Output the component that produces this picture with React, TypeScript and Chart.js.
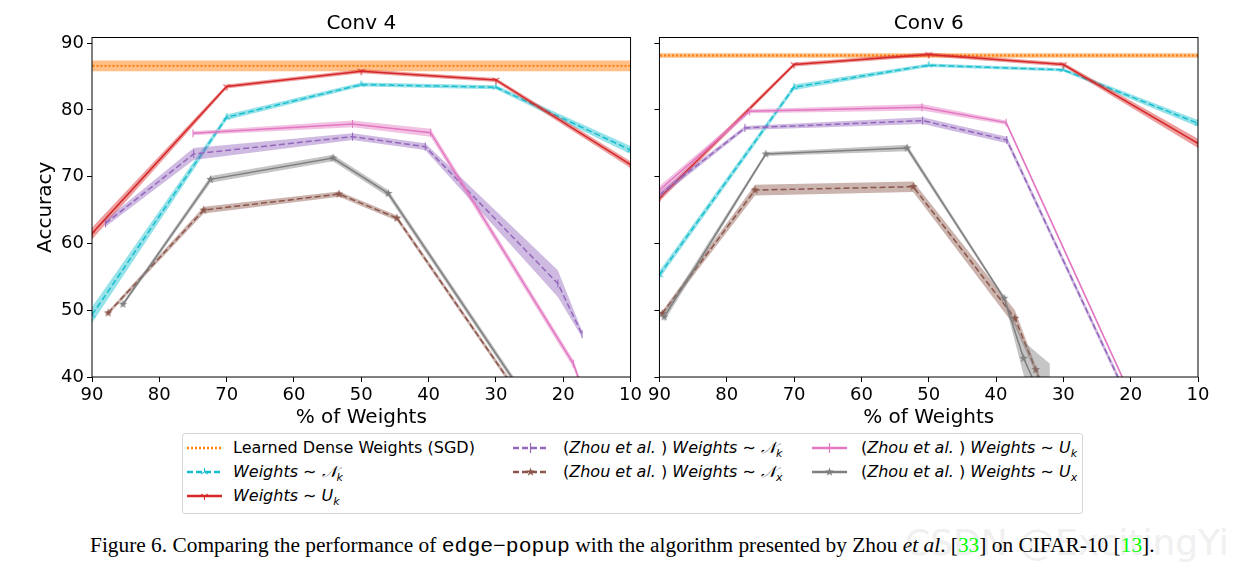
import React, { useEffect, useRef } from "react";
import { Chart, registerables } from "chart.js";
Chart.register(...registerables);

const xTicks = [90, 80, 70, 60, 50, 40, 30, 20, 10];
const yTicks = [40, 50, 60, 70, 80, 90];

// ---------- Conv 4 ----------
const conv4SgdAcc = 86.6;
const conv4SgdErr = 0.8;
const conv4NkX = [90, 70, 50, 30, 10];
const conv4NkY = [49.3, 78.9, 83.8, 83.4, 74.0];
const conv4NkErr = [1.2, 0.4, 0.3, 0.3, 0.6];
const conv4UkX = [90, 70, 50, 30, 10];
const conv4UkY = [61.5, 83.5, 85.8, 84.5, 71.8];
const conv4UkErr = [0.9, 0.3, 0.3, 0.3, 0.5];
const conv4ZhouNkX = [88, 74.9, 51.3, 40.5, 20.8, 17.2];
const conv4ZhouNkY = [63.0, 73.4, 76.0, 74.5, 54.0, 46.4];
const conv4ZhouNkErr = [0.5, 0.9, 0.5, 0.5, 2.0, 0.5];
const conv4ZhouNxX = [87.6, 73.4, 53.3, 44.7, 25];
const conv4ZhouNxY = [49.6, 65.0, 67.4, 63.8, 35.0];
const conv4ZhouNxErr = [0.3, 0.5, 0.4, 0.4, 0.4];
const conv4ZhouUkX = [75, 51.3, 39.7, 18.5, 16];
const conv4ZhouUkY = [76.5, 77.9, 76.6, 42.0, 35.0];
const conv4ZhouUkErr = [0.3, 0.5, 0.6, 0.6, 0.6];
const conv4ZhouUxX = [85.4, 72.4, 54.2, 46.0, 25];
const conv4ZhouUxY = [50.9, 69.6, 72.8, 67.5, 36.0];
const conv4ZhouUxErr = [0.3, 0.5, 0.5, 0.5, 0.5];

// ---------- Conv 6 ----------
const conv6SgdAcc = 88.15;
const conv6SgdErr = 0.35;
const conv6NkX = [90, 70, 50, 30, 10];
const conv6NkY = [55.3, 83.4, 86.7, 86.0, 78.0];
const conv6NkErr = [0.6, 0.4, 0.25, 0.25, 0.5];
const conv6UkX = [90, 70, 50, 30, 10];
const conv6UkY = [66.8, 86.8, 88.3, 86.8, 75.0];
const conv6UkErr = [0.5, 0.3, 0.3, 0.3, 0.7];
const conv6ZhouNkX = [90, 77.3, 50.9, 38.4, 18];
const conv6ZhouNkY = [67.3, 77.3, 78.4, 75.5, 31.6];
const conv6ZhouNkErr = [0.5, 0.3, 0.5, 0.5, 0.5];
const conv6ZhouNxX = [89.6, 75.8, 52.3, 37.2, 34.1, 31];
const conv6ZhouNxY = [49.5, 68.0, 68.5, 48.8, 41.1, 33.0];
const conv6ZhouNxErr = [0.4, 0.8, 0.8, 1.2, 0.6, 0.6];
const conv6ZhouUkX = [90, 76.6, 51, 38.5, 18];
const conv6ZhouUkY = [68.0, 79.8, 80.4, 78.1, 32.8];
const conv6ZhouUkErr = [0.6, 0.3, 0.5, 0.3, 0.3];
const conv6ZhouUxX = [89.3, 74.2, 53.2, 38.8, 35.9, 32];
const conv6ZhouUxY = [49.0, 73.4, 74.3, 51.8, 42.8, 34.0];
const conv6ZhouUxErr = [0.7, 0.3, 0.5, 0.3, 2.5, 8.0];

const C = {
  orange: "#ff7f0e",
  cyan: "#17becf",
  red: "#d62728",
  purple: "#9467bd",
  brown: "#8c564b",
  pink: "#e377c2",
  gray: "#7f7f7f",
};

function hexA(hex: string, a: number) {
  const n = parseInt(hex.slice(1), 16);
  return `rgba(${(n >> 16) & 255},${(n >> 8) & 255},${n & 255},${a})`;
}

function starCanvas(color: string, r: number) {
  const c = document.createElement("canvas");
  const s = Math.ceil(r * 2 + 2);
  c.width = s;
  c.height = s;
  const ctx = c.getContext("2d")!;
  ctx.translate(s / 2, s / 2);
  ctx.beginPath();
  for (let i = 0; i < 10; i++) {
    const rr = i % 2 === 0 ? r : r * 0.4;
    const a = -Math.PI / 2 + (i * Math.PI) / 5;
    ctx.lineTo(rr * Math.cos(a), rr * Math.sin(a));
  }
  ctx.closePath();
  ctx.fillStyle = color;
  ctx.fill();
  return c;
}

function triCanvas(color: string, r: number, down: boolean) {
  const c = document.createElement("canvas");
  const s = Math.ceil(r * 2 + 2);
  c.width = s;
  c.height = s;
  const ctx = c.getContext("2d")!;
  ctx.translate(s / 2, s / 2);
  ctx.strokeStyle = color;
  ctx.lineWidth = 1;
  const angles = down ? [90, 210, 330] : [270, 30, 150];
  ctx.beginPath();
  for (const a of angles) {
    ctx.moveTo(0, 0);
    ctx.lineTo(r * Math.cos((a * Math.PI) / 180), r * Math.sin((a * Math.PI) / 180));
  }
  ctx.stroke();
  return c;
}

type Series = {
  color: string;
  dash: number[];
  marker: string;
  x: number[];
  y: number[];
  err: number[];
};

function markerStyle(marker: string, color: string): any {
  if (marker === "star") return { pointStyle: starCanvas(color, 4.5), rotation: 0 };
  if (marker === "tri") return { pointStyle: triCanvas(color, 4, true), rotation: 0 };
  if (marker === "tri_up") return { pointStyle: triCanvas(color, 4, false), rotation: 0 };
  return { pointStyle: "line", rotation: 90 };
}

function buildDatasets(sgdAcc: number, sgdErr: number, series: Series[]) {
  const ds: any[] = [];
  let k = 0;
  const sgdX = [10, 90];
  ds.push({
    data: sgdX.map((x) => ({ x, y: sgdAcc + sgdErr })),
    borderWidth: 0,
    pointRadius: 0,
    fill: false,
    order: 1000 - k++,
  });
  ds.push({
    data: sgdX.map((x) => ({ x, y: sgdAcc - sgdErr })),
    borderWidth: 0,
    pointRadius: 0,
    fill: "-1",
    backgroundColor: hexA(C.orange, 0.5),
    order: 1000 - k++,
  });
  ds.push({
    data: sgdX.map((x) => ({ x, y: sgdAcc })),
    borderColor: C.orange,
    borderWidth: 2,
    borderDash: [2, 2],
    pointRadius: 0,
    fill: false,
    order: 1000 - k++,
  });
  for (const s of series) {
    ds.push({
      data: s.x.map((x, i) => ({ x, y: s.y[i] + s.err[i] })),
      borderWidth: 0,
      pointRadius: 0,
      fill: false,
      order: 1000 - k++,
    });
    ds.push({
      data: s.x.map((x, i) => ({ x, y: s.y[i] - s.err[i] })),
      borderWidth: 0,
      pointRadius: 0,
      fill: "-1",
      backgroundColor: hexA(s.color, 0.45),
      order: 1000 - k++,
    });
    const m = markerStyle(s.marker, s.color);
    ds.push({
      data: s.x.map((x, i) => ({ x, y: s.y[i] })),
      borderColor: s.color,
      borderWidth: 1.5,
      borderDash: s.dash,
      pointRadius: 4,
      pointStyle: m.pointStyle,
      rotation: m.rotation,
      pointBorderColor: s.color,
      pointBackgroundColor: s.color,
      pointBorderWidth: 1,
      fill: false,
      order: 1000 - k++,
    });
  }
  return ds;
}

const framePlugin = {
  id: "frame",
  afterDatasetsDraw(chart: any) {
    const { ctx, chartArea: a } = chart;
    ctx.save();
    ctx.strokeStyle = "#000";
    ctx.lineWidth = 1;
    ctx.strokeRect(a.left, a.top, a.right - a.left, a.bottom - a.top);
    ctx.restore();
  },
};

const DASH = [6, 3];

function makeSeries(which: 4 | 6): Series[] {
  if (which === 4) {
    return [
      { color: C.cyan, dash: DASH, marker: "tri_up", x: conv4NkX, y: conv4NkY, err: conv4NkErr },
      { color: C.red, dash: [], marker: "tri", x: conv4UkX, y: conv4UkY, err: conv4UkErr },
      { color: C.purple, dash: DASH, marker: "vline", x: conv4ZhouNkX, y: conv4ZhouNkY, err: conv4ZhouNkErr },
      { color: C.brown, dash: DASH, marker: "star", x: conv4ZhouNxX, y: conv4ZhouNxY, err: conv4ZhouNxErr },
      { color: C.pink, dash: [], marker: "vline", x: conv4ZhouUkX, y: conv4ZhouUkY, err: conv4ZhouUkErr },
      { color: C.gray, dash: [], marker: "star", x: conv4ZhouUxX, y: conv4ZhouUxY, err: conv4ZhouUxErr },
    ];
  }
  return [
    { color: C.cyan, dash: DASH, marker: "tri_up", x: conv6NkX, y: conv6NkY, err: conv6NkErr },
    { color: C.red, dash: [], marker: "tri", x: conv6UkX, y: conv6UkY, err: conv6UkErr },
    { color: C.purple, dash: DASH, marker: "vline", x: conv6ZhouNkX, y: conv6ZhouNkY, err: conv6ZhouNkErr },
    { color: C.brown, dash: DASH, marker: "star", x: conv6ZhouNxX, y: conv6ZhouNxY, err: conv6ZhouNxErr },
    { color: C.pink, dash: [], marker: "vline", x: conv6ZhouUkX, y: conv6ZhouUkY, err: conv6ZhouUkErr },
    { color: C.gray, dash: [], marker: "star", x: conv6ZhouUxX, y: conv6ZhouUxY, err: conv6ZhouUxErr },
  ];
}

function makeConfig(which: 4 | 6): any {
  const left = which === 4;
  const datasets =
    which === 4
      ? buildDatasets(conv4SgdAcc, conv4SgdErr, makeSeries(4))
      : buildDatasets(conv6SgdAcc, conv6SgdErr, makeSeries(6));
  return {
    type: "line",
    data: { datasets },
    plugins: [framePlugin],
    options: {
      animation: false,
      responsive: false,
      events: [],
      layout: { padding: { left: 0, right: left ? 14 : 39, top: 0, bottom: 0 } },
      elements: { line: { tension: 0 } },
      plugins: {
        legend: { display: false },
        tooltip: { enabled: false },
        title: {
          display: true,
          text: left ? "Conv 4" : "Conv 6",
          color: "#000",
          font: { size: 20, family: "DejaVu Sans", weight: "normal" },
          padding: { top: 11.5, bottom: 2 },
          fullSize: false,
        },
      },
      scales: {
        x: {
          type: "linear",
          reverse: true,
          min: 10,
          max: 90,
          afterBuildTicks: (s: any) => {
            s.ticks = xTicks.map((v) => ({ value: v }));
          },
          afterFit: (s: any) => {
            s.height = 53;
          },
          border: { display: false },
          grid: { drawOnChartArea: false, drawTicks: true, tickLength: 5, color: "#000" },
          ticks: {
            color: "#000",
            font: { size: 18, family: "DejaVu Sans" },
            padding: 3,
            maxRotation: 0,
            autoSkip: false,
          },
          title: {
            display: true,
            text: "% of Weights",
            color: "#000",
            font: { size: 20, family: "DejaVu Sans" },
            padding: { top: 0, bottom: 0 },
          },
        },
        y: {
          type: "linear",
          min: 40,
          max: 90.85,
          afterBuildTicks: (s: any) => {
            s.ticks = yTicks.map((v) => ({ value: v }));
          },
          afterFit: (s: any) => {
            s.width = left ? 92 : 14;
          },
          border: { display: false },
          grid: { drawOnChartArea: false, drawTicks: true, tickLength: 5, color: "#000" },
          ticks: {
            color: "#000",
            font: { size: 18, family: "DejaVu Sans" },
            padding: 3,
            callback: (v: any) => (left ? String(v) : ""),
          },
          title: {
            display: left,
            text: "Accuracy",
            color: "#000",
            font: { size: 20, family: "DejaVu Sans" },
            padding: { top: 34, bottom: 0 },
          },
        },
      },
    },
  };
}

function Plot({ which, left, width }: { which: 4 | 6; left: number; width: number }) {
  const ref = useRef<HTMLCanvasElement>(null);
  useEffect(() => {
    const chart = new Chart(ref.current!, makeConfig(which));
    return () => chart.destroy();
  }, [which]);
  return (
    <div style={{ position: "absolute", left, top: 0, width, height: 430 }}>
      <canvas ref={ref} width={width} height={430} style={{ width, height: 430, display: "block" }} />
    </div>
  );
}

function Sample({ color, dash, marker, width }: { color: string; dash: string; marker: string; width: number }) {
  let m: any = null;
  if (marker === "vline") m = <line x1={17.5} y1={1} x2={17.5} y2={11} stroke={color} strokeWidth={1.2} />;
  if (marker === "star") {
    const pts: string[] = [];
    for (let i = 0; i < 10; i++) {
      const rr = i % 2 === 0 ? 4.5 : 1.8;
      const a = -Math.PI / 2 + (i * Math.PI) / 5;
      pts.push(`${17.5 + rr * Math.cos(a)},${6 + rr * Math.sin(a)}`);
    }
    m = <polygon points={pts.join(" ")} fill={color} />;
  }
  if (marker === "tri" || marker === "tri_up") {
    const angs = marker === "tri" ? [90, 210, 330] : [270, 30, 150];
    m = (
      <g stroke={color} strokeWidth={1}>
        {angs.map((a) => (
          <line
            key={a}
            x1={17.5}
            y1={6}
            x2={17.5 + 4 * Math.cos((a * Math.PI) / 180)}
            y2={6 + 4 * Math.sin((a * Math.PI) / 180)}
          />
        ))}
      </g>
    );
  }
  return (
    <svg width={35} height={12} style={{ display: "block" }}>
      <line x1={0} y1={6} x2={35} y2={6} stroke={color} strokeWidth={width} strokeDasharray={dash} />
      {m}
    </svg>
  );
}

const Sub = ({ children }: { children: any }) => (
  <span style={{ fontSize: 11, position: "relative", top: 4, fontStyle: "italic" }}>{children}</span>
);

function Legend() {
  const rowC = [13.7, 37.7, 62];
  const items = [
    { col: 0, row: 0, color: C.orange, dash: "2 2", marker: "", text: <span>Learned Dense Weights (SGD)</span> },
    {
      col: 0,
      row: 1,
      color: C.cyan,
      dash: "6 3",
      marker: "tri_up",
      text: (
        <span>
          <i>Weights</i> ∼ <i>𝒩</i>
          <Sub>k</Sub>
        </span>
      ),
    },
    {
      col: 0,
      row: 2,
      color: C.red,
      dash: "",
      marker: "tri",
      text: (
        <span>
          <i>Weights</i> ∼ <i>U</i>
          <Sub>k</Sub>
        </span>
      ),
    },
    {
      col: 1,
      row: 0,
      color: C.purple,
      dash: "6 3",
      marker: "vline",
      text: (
        <span>
          (<i>Zhou et al.</i> ) <i>Weights</i> ∼ <i>𝒩</i>
          <Sub>k</Sub>
        </span>
      ),
    },
    {
      col: 1,
      row: 1,
      color: C.brown,
      dash: "6 3",
      marker: "star",
      text: (
        <span>
          (<i>Zhou et al.</i> ) <i>Weights</i> ∼ <i>𝒩</i>
          <Sub>x</Sub>
        </span>
      ),
    },
    {
      col: 2,
      row: 0,
      color: C.pink,
      dash: "",
      marker: "vline",
      text: (
        <span>
          (<i>Zhou et al.</i> ) <i>Weights</i> ∼ <i>U</i>
          <Sub>k</Sub>
        </span>
      ),
    },
    {
      col: 2,
      row: 1,
      color: C.gray,
      dash: "",
      marker: "star",
      text: (
        <span>
          (<i>Zhou et al.</i> ) <i>Weights</i> ∼ <i>U</i>
          <Sub>x</Sub>
        </span>
      ),
    },
  ];
  const lineX = [4, 330, 629];
  const textX = [50, 380, 678];
  return (
    <div
      style={{
        position: "absolute",
        left: 182,
        top: 433,
        width: 899,
        height: 79,
        border: "1px solid #d6d6d6",
        borderRadius: 3,
        fontFamily: "DejaVu Sans",
        fontSize: 16,
        color: "#000",
      }}
    >
      {items.map((it, i) => (
        <React.Fragment key={i}>
          <div style={{ position: "absolute", left: lineX[it.col], top: rowC[it.row] - 6 }}>
            <Sample color={it.color} dash={it.dash} marker={it.marker} width={2.5} />
          </div>
          <div
            style={{
              position: "absolute",
              left: textX[it.col],
              top: rowC[it.row] - 12,
              height: 24,
              lineHeight: "24px",
              whiteSpace: "nowrap",
            }}
          >
            {it.text}
          </div>
        </React.Fragment>
      ))}
    </div>
  );
}

export default function App() {
  return (
    <div
      style={{
        position: "fixed",
        left: 0,
        top: 0,
        width: 1237,
        height: 571,
        background: "#fff",
        overflow: "hidden",
      }}
    >
      <Plot which={4} left={0} width={645} />
      <Plot which={6} left={645} width={592} />
      <Legend />
      <div
        style={{
          position: "absolute",
          left: 905,
          top: 522,
          fontFamily: "DejaVu Sans",
          fontSize: 36,
          color: "#f0f0f0",
          whiteSpace: "nowrap",
        }}
      >
        CSDN @ExcitingYi
      </div>
      <div
        style={{
          position: "absolute",
          left: 90,
          top: 533,
          fontFamily: "Liberation Serif",
          fontSize: 20,
          lineHeight: "24px",
          whiteSpace: "nowrap",
          color: "#000",
          transform: "scaleX(1.068)",
          transformOrigin: "left center",
        }}
      >
        Figure 6. Comparing the performance of{" "}
        <span style={{ fontFamily: "Liberation Mono" }}>edge−popup</span> with the algorithm presented by Zhou{" "}
        <i>et al</i>. [<span style={{ color: "#00ff00" }}>33</span>] on CIFAR-10 [
        <span style={{ color: "#00ff00" }}>13</span>].
      </div>
    </div>
  );
}
